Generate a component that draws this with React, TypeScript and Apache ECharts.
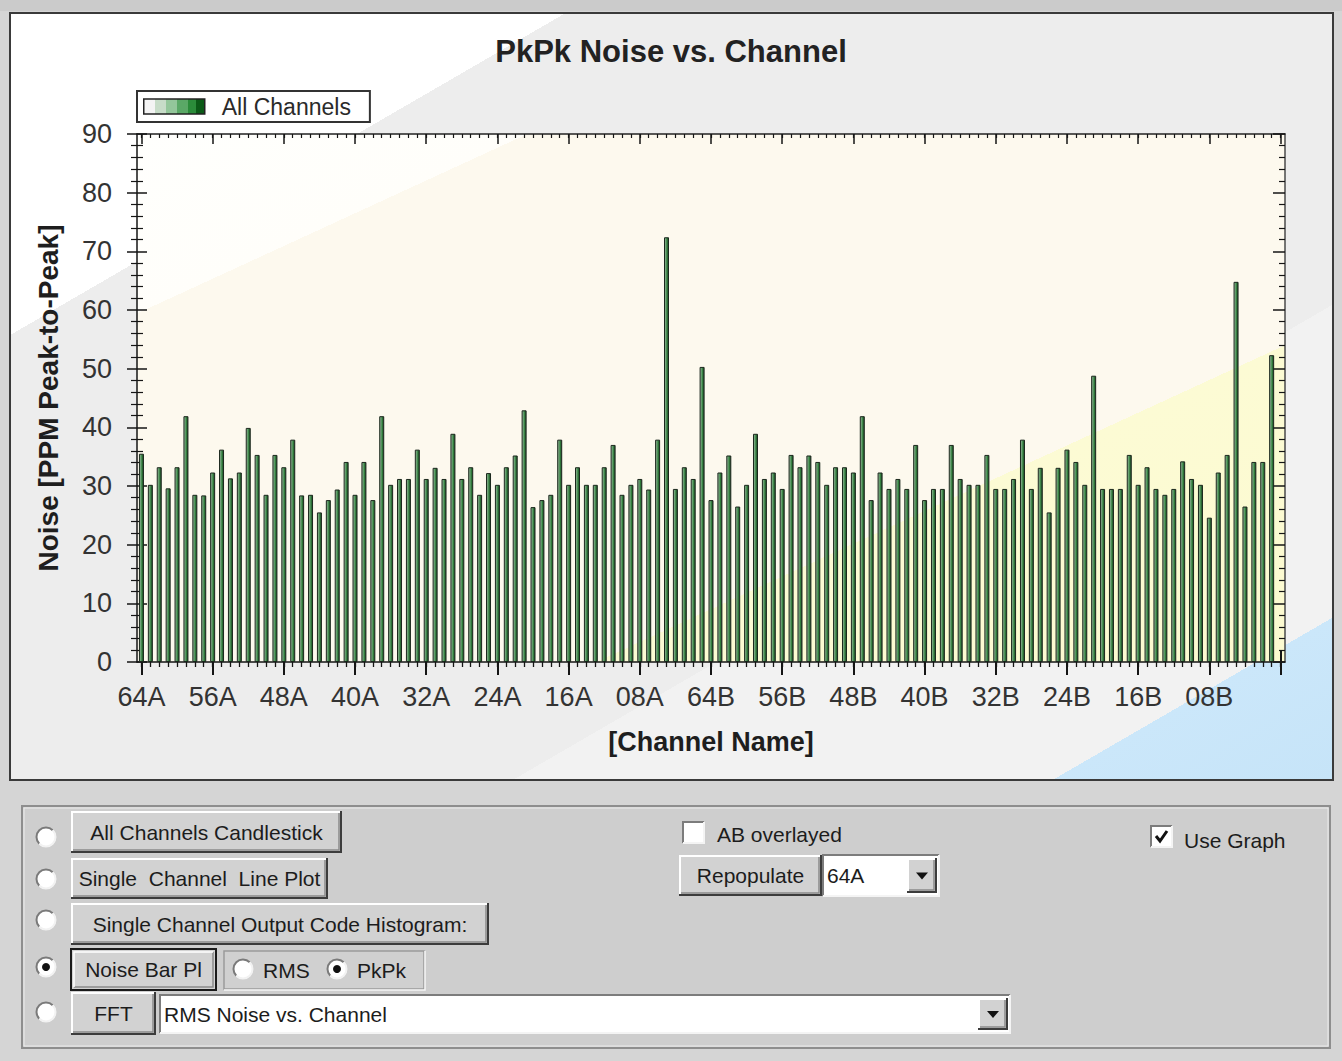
import React, { useEffect, useRef } from "react";
import * as echarts from "echarts";

// ---------------- DATA ----------------
const FONT = '"Liberation Sans", Arial, sans-serif';

const channelNumbers: string[] = [
  "64", "63", "62", "61", "60", "59", "58", "57", "56", "55", "54", "53", "52", "51", "50", "49",
  "48", "47", "46", "45", "44", "43", "42", "41", "40", "39", "38", "37", "36", "35", "34", "33",
  "32", "31", "30", "29", "28", "27", "26", "25", "24", "23", "22", "21", "20", "19", "18", "17",
  "16", "15", "14", "13", "12", "11", "10", "09", "08", "07", "06", "05", "04", "03", "02", "01",
];

// PkPk noise, side A (64A ... 01A)
const sideANoise: number[] = [
  35.5, 30.2, 33.2, 29.6, 33.2, 41.9, 28.5, 28.4, 32.3, 36.2, 31.3, 32.3, 39.9, 35.3, 28.5, 35.3,
  33.2, 37.9, 28.4, 28.5, 25.5, 27.6, 29.4, 34.1, 28.5, 34.1, 27.6, 41.9, 30.2, 31.2, 31.2, 36.2,
  31.2, 33.1, 31.2, 38.9, 31.2, 33.2, 28.5, 32.2, 30.2, 33.2, 35.2, 42.9, 26.4, 27.6, 28.5, 37.9,
  30.2, 33.2, 30.2, 30.2, 33.2, 37.0, 28.5, 30.2, 31.2, 29.4, 37.9, 72.4, 29.5, 33.2, 31.2, 50.3,
];

// PkPk noise, side B (64B ... 01B)
const sideBNoise: number[] = [
  27.6, 32.3, 35.2, 26.5, 30.2, 38.9, 31.2, 32.3, 29.5, 35.3, 33.2, 35.2, 34.1, 30.2, 33.2, 33.2,
  32.3, 41.9, 27.6, 32.3, 29.5, 31.2, 29.5, 37.0, 27.6, 29.5, 29.5, 37.0, 31.2, 30.2, 30.2, 35.3,
  29.5, 29.5, 31.2, 37.9, 29.5, 33.1, 25.5, 33.1, 36.2, 34.1, 30.2, 48.8, 29.5, 29.5, 29.5, 35.3,
  30.2, 33.2, 29.5, 28.5, 29.5, 34.2, 31.2, 30.2, 24.6, 32.3, 35.3, 64.8, 26.5, 34.1, 34.1, 52.3,
];

// one trailing empty slot, as in the original plot
const channelNames: string[] = [
  ...channelNumbers.map((n) => n + "A"),
  ...channelNumbers.map((n) => n + "B"),
  "",
];
const noiseValues: (number | null)[] = [...sideANoise, ...sideBNoise, null];

const yMin = 0;
const yMax = 90;
const yInterval = 10;
const labelEvery = 8;

const titleText = "PkPk Noise vs. Channel";
const seriesName = "All Channels";
const xName = "[Channel Name]";
const yName = "Noise [PPM Peak-to-Peak]";

// ---------------- UI helpers (drawn controls) ----------------
type El = any;

function txt(x: number, y: number, s: string, align: string = "left", size = 21): El {
  return {
    type: "text",
    x,
    y,
    z: 20,
    silent: true,
    style: {
      text: s,
      fill: "#1c1c1c",
      fontSize: size,
      fontFamily: FONT,
      align,
      verticalAlign: "middle",
      textAlign: align,
      textVerticalAlign: "middle",
    },
  };
}

function raised(x: number, y: number, w: number, h: number): El[] {
  return [
    { type: "rect", z: 15, silent: true, shape: { x, y, width: w, height: h }, style: { fill: "#d2d2d2" } },
    { type: "polyline", z: 16, silent: true, shape: { points: [[x + 1, y + h - 1], [x + 1, y + 1], [x + w - 1, y + 1]] }, style: { stroke: "#ffffff", lineWidth: 2, fill: null } },
    { type: "polyline", z: 16, silent: true, shape: { points: [[x, y + h - 1], [x + w - 1, y + h - 1], [x + w - 1, y]] }, style: { stroke: "#3c3c3c", lineWidth: 2, fill: null } },
    { type: "polyline", z: 16, silent: true, shape: { points: [[x + 2, y + h - 3], [x + w - 3, y + h - 3], [x + w - 3, y + 2]] }, style: { stroke: "#8a8a8a", lineWidth: 1.5, fill: null } },
  ];
}

function button(x: number, y: number, w: number, h: number, label: string, pressed = false): El[] {
  let els: El[];
  if (pressed) {
    els = [
      { type: "rect", z: 15, silent: true, shape: { x, y, width: w, height: h }, style: { fill: "#d2d2d2", stroke: "#1a1a1a", lineWidth: 2 } },
      { type: "polyline", z: 16, silent: true, shape: { points: [[x + 3, y + h - 3], [x + w - 3, y + h - 3], [x + w - 3, y + 3]] }, style: { stroke: "#8a8a8a", lineWidth: 1.5, fill: null } },
      { type: "polyline", z: 16, silent: true, shape: { points: [[x + 3, y + h - 3], [x + 3, y + 3], [x + w - 3, y + 3]] }, style: { stroke: "#ffffff", lineWidth: 1.5, fill: null } },
    ];
  } else {
    els = raised(x, y, w, h);
  }
  els.push(txt(x + w / 2, y + h / 2, label, "center"));
  return els;
}

function radio(cx: number, cy: number, checked: boolean): El[] {
  const els: El[] = [
    { type: "circle", z: 15, silent: true, shape: { cx, cy, r: 10 }, style: { fill: "#ffffff" } },
    { type: "arc", z: 16, silent: true, shape: { cx, cy, r: 9.5, startAngle: (3 * Math.PI) / 4, endAngle: (7 * Math.PI) / 4, clockwise: true }, style: { stroke: "#7a7a7a", lineWidth: 2, fill: null } },
    { type: "arc", z: 16, silent: true, shape: { cx, cy, r: 9.5, startAngle: -Math.PI / 4, endAngle: (3 * Math.PI) / 4, clockwise: true }, style: { stroke: "#f2f2f2", lineWidth: 2, fill: null } },
  ];
  if (checked) {
    els.push({ type: "circle", z: 17, silent: true, shape: { cx, cy, r: 4 }, style: { fill: "#111111" } });
  }
  return els;
}

function sunken(x: number, y: number, w: number, h: number): El[] {
  return [
    { type: "rect", z: 15, silent: true, shape: { x, y, width: w, height: h }, style: { fill: "#ffffff" } },
    { type: "polyline", z: 16, silent: true, shape: { points: [[x, y + h], [x, y], [x + w, y]] }, style: { stroke: "#7c7c7c", lineWidth: 2, fill: null } },
    { type: "polyline", z: 16, silent: true, shape: { points: [[x, y + h], [x + w, y + h], [x + w, y]] }, style: { stroke: "#f4f4f4", lineWidth: 2, fill: null } },
  ];
}

function checkbox(x: number, y: number, checked: boolean): El[] {
  const els = sunken(x, y, 21, 21);
  if (checked) {
    els.push({ type: "polyline", z: 17, silent: true, shape: { points: [[x + 5, y + 10], [x + 9, y + 15], [x + 16, y + 5]] }, style: { stroke: "#111111", lineWidth: 3, fill: null } });
  }
  return els;
}

function combo(x: number, y: number, w: number, h: number, label: string): El[] {
  const els = sunken(x, y, w, h);
  const bw = 30;
  els.push(...raised(x + w - bw - 2, y + 3, bw, h - 6));
  const ax = x + w - bw / 2 - 2;
  const ay = y + h / 2;
  els.push({ type: "polygon", z: 18, silent: true, shape: { points: [[ax - 6, ay - 3], [ax + 6, ay - 3], [ax, ay + 4]] }, style: { fill: "#111111" } });
  els.push(txt(x + 4, y + h / 2, label, "left"));
  return els;
}

function buildControls(): El[] {
  const els: El[] = [];
  // bottom panel
  els.push({ type: "rect", z: 5, silent: true, shape: { x: 22, y: 806, width: 1308, height: 242 }, style: { fill: "#cecece", stroke: "#8e8e8e", lineWidth: 2 } });
  els.push({ type: "rect", z: 5, silent: true, shape: { x: 24, y: 808, width: 1304, height: 238 }, style: { fill: null, stroke: "#ebebeb", lineWidth: 1 } });

  els.push(...radio(46, 837, false));
  els.push(...radio(46, 879, false));
  els.push(...radio(46, 920, false));
  els.push(...radio(46, 967, true));
  els.push(...radio(46, 1012, false));

  els.push(...button(71, 811, 271, 42, "All Channels Candlestick"));
  els.push(...button(71, 858, 257, 41, "Single  Channel  Line Plot"));
  els.push(...button(71, 903, 418, 42, "Single Channel Output Code Histogram:"));
  els.push(...button(71, 949, 145, 41, "Noise Bar Pl", true));
  els.push(...button(71, 992, 85, 43, "FFT"));

  // RMS / PkPk group
  els.push({ type: "rect", z: 14, silent: true, shape: { x: 224, y: 951, width: 200, height: 38 }, style: { fill: "#d0d0d0", stroke: "#9a9a9a", lineWidth: 1.5 } });
  els.push({ type: "polyline", z: 14, silent: true, shape: { points: [[224, 990], [425, 990], [425, 951]] }, style: { stroke: "#f6f6f6", lineWidth: 1.5, fill: null } });
  els.push(...radio(243, 969, false));
  els.push(txt(263, 970, "RMS"));
  els.push(...radio(337, 969, true));
  els.push(txt(357, 970, "PkPk"));

  els.push(...combo(160, 995, 850, 38, "RMS Noise vs. Channel"));

  els.push(...checkbox(683, 822, false));
  els.push(txt(717, 834, "AB overlayed"));
  els.push(...button(679, 855, 143, 41, "Repopulate"));
  els.push(...combo(823, 855, 116, 41, "64A"));

  els.push(...checkbox(1151, 826, true));
  els.push(txt(1184, 840, "Use Graph"));
  return els;
}

// ---------------- CHART ----------------
export default function App() {
  const ref = useRef<HTMLDivElement | null>(null);

  useEffect(() => {
    if (!ref.current) return;
    const chart = echarts.init(ref.current, null, { renderer: "svg" });

    const barGradient = {
      type: "linear", x: 0, y: 0, x2: 1, y2: 0,
      colorStops: [
        { offset: 0, color: "#a4b7a6" },
        { offset: 0.4, color: "#5a9a64" },
        { offset: 0.65, color: "#2f7b3a" },
        { offset: 1, color: "#223f28" },
      ],
    };
    const legendGradient = {
      type: "linear", x: 0, y: 0, x2: 1, y2: 0,
      colorStops: [
        { offset: 0, color: "#f4f4f4" },
        { offset: 0.18, color: "#f4f4f4" },
        { offset: 0.18, color: "#c7dcc8" },
        { offset: 0.36, color: "#c7dcc8" },
        { offset: 0.36, color: "#93c69a" },
        { offset: 0.54, color: "#93c69a" },
        { offset: 0.54, color: "#5aa866" },
        { offset: 0.72, color: "#5aa866" },
        { offset: 0.72, color: "#2b8c3a" },
        { offset: 0.86, color: "#2b8c3a" },
        { offset: 0.86, color: "#0b5a17" },
        { offset: 1, color: "#0b5a17" },
      ],
    };
    const plotGradient = {
      type: "linear", x: 0, y: 0, x2: 1, y2: 1,
      colorStops: [
        { offset: 0, color: "#fffffd" },
        { offset: 0.17, color: "#fffefa" },
        { offset: 0.17, color: "#fdf9ee" },
        { offset: 0.7, color: "#fdf9ee" },
        { offset: 0.7, color: "#fcfbd4" },
        { offset: 1, color: "#fcfad0" },
      ],
    };
    const panelGradient = {
      type: "linear", x: 0, y: 0, x2: 1, y2: 1,
      colorStops: [
        { offset: 0, color: "#ffffff" },
        { offset: 0.21, color: "#ffffff" },
        { offset: 0.21, color: "#ededed" },
        { offset: 0.69, color: "#ededed" },
        { offset: 0.69, color: "#f2f2f2" },
        { offset: 0.894, color: "#f2f2f2" },
        { offset: 0.894, color: "#cbe7fa" },
        { offset: 1, color: "#c6e4f8" },
      ],
    };

    const majorEvery = (i: number) => i % labelEvery === 0;
    const tickColor = "#151515";
    const catBase = {
      type: "category",
      data: channelNames,
      boundaryGap: true,
      axisLabel: { show: false },
      splitLine: { show: false },
    };
    const valBase = {
      type: "value",
      min: yMin,
      max: yMax,
      interval: yInterval,
      splitLine: { show: false },
      axisLabel: { show: false },
    };

    chart.setOption({
      animation: false,
      backgroundColor: "#d5d5d5",
      title: {
        text: titleText,
        left: "center",
        top: 31,
        textStyle: { fontSize: 31, fontWeight: "bold", fontFamily: FONT, color: "#222222" },
      },
      legend: {
        show: true,
        left: 137,
        top: 91,
        selectedMode: false,
        backgroundColor: "#ffffff",
        borderColor: "#333333",
        borderWidth: 2,
        borderRadius: 0,
        padding: [4, 19, 4, 6],
        itemWidth: 61,
        itemHeight: 15,
        icon: "rect",
        data: [{ name: seriesName, itemStyle: { color: legendGradient, borderColor: "#222222", borderWidth: 1.5 } }],
        textStyle: { fontSize: 23, fontFamily: FONT, color: "#2a2a2a", padding: [0, 0, 0, 12], lineHeight: 22 },
      },
      grid: {
        left: 137,
        top: 134,
        width: 1148,
        height: 528,
        show: true,
        backgroundColor: plotGradient,
        borderWidth: 0,
      },
      xAxis: [
        {
          ...catBase,
          position: "bottom",
          axisLine: { show: true, onZero: false, lineStyle: { color: tickColor, width: 1.5 } },
          axisTick: { show: true, interval: 0, alignWithLabel: true, length: 5, lineStyle: { color: tickColor, width: 1.3 } },
          axisLabel: { show: true, interval: majorEvery, margin: 21, fontSize: 27, fontFamily: FONT, color: "#333333" },
          name: xName,
          nameLocation: "middle",
          nameGap: 66,
          nameTextStyle: { fontSize: 27, fontWeight: "bold", fontFamily: FONT, color: "#1e1e1e" },
        },
        {
          ...catBase,
          position: "bottom",
          axisLine: { show: false, onZero: false },
          axisTick: { show: true, interval: majorEvery, alignWithLabel: true, length: 13, lineStyle: { color: tickColor, width: 2 } },
        },
        {
          ...catBase,
          position: "bottom",
          axisLine: { show: false, onZero: false },
          axisTick: { show: true, inside: true, interval: majorEvery, alignWithLabel: true, length: 11, lineStyle: { color: tickColor, width: 2 } },
        },
        {
          ...catBase,
          position: "top",
          axisLine: { show: true, onZero: false, lineStyle: { color: "#222222", width: 1.5 } },
          axisTick: { show: true, inside: true, interval: 0, alignWithLabel: true, length: 4, lineStyle: { color: tickColor, width: 1.2 } },
        },
        {
          ...catBase,
          position: "top",
          axisLine: { show: false, onZero: false },
          axisTick: { show: true, inside: true, interval: majorEvery, alignWithLabel: true, length: 10, lineStyle: { color: tickColor, width: 1.5 } },
        },
      ],
      yAxis: [
        {
          ...valBase,
          position: "left",
          axisLine: { show: true, onZero: false, lineStyle: { color: tickColor, width: 1.5 } },
          axisTick: { show: true, length: 10, lineStyle: { color: tickColor, width: 1.5 } },
          minorTick: { show: true, splitNumber: 5, length: 6, lineStyle: { color: tickColor, width: 1.2 } },
          axisLabel: { show: true, margin: 25, fontSize: 27, fontFamily: FONT, color: "#333333" },
          name: yName,
          nameLocation: "middle",
          nameGap: 75,
          nameRotate: 90,
          nameTextStyle: { fontSize: 28, fontWeight: "bold", fontFamily: FONT, color: "#1e1e1e" },
        },
        {
          ...valBase,
          position: "left",
          axisLine: { show: false, onZero: false },
          axisTick: { show: true, inside: true, length: 10, lineStyle: { color: tickColor, width: 1.5 } },
          minorTick: { show: true, splitNumber: 5, length: 6, lineStyle: { color: tickColor, width: 1.2 } },
        },
        {
          ...valBase,
          position: "right",
          axisLine: { show: true, onZero: false, lineStyle: { color: "#4a4a4a", width: 1.5 } },
          axisTick: { show: true, inside: true, length: 12, lineStyle: { color: tickColor, width: 1.5 } },
          minorTick: { show: true, splitNumber: 5, length: 6, lineStyle: { color: tickColor, width: 1.2 } },
        },
      ],
      series: [
        {
          type: "bar",
          name: seriesName,
          xAxisIndex: 0,
          yAxisIndex: 0,
          data: noiseValues,
          barWidth: 5,
          itemStyle: { color: barGradient, borderColor: "#1a271c", borderWidth: 1 },
        },
      ],
      graphic: [
        { type: "rect", z: -20, silent: true, shape: { x: 0, y: 0, width: 1342, height: 11 }, style: { fill: "#cbcbcb" } },
        { type: "rect", z: -10, silent: true, shape: { x: 10, y: 13, width: 1323, height: 767 }, style: { fill: panelGradient, stroke: "#3a3a3a", lineWidth: 2 } },
        ...buildControls(),
      ],
    });

    return () => chart.dispose();
  }, []);

  return (
    <div
      ref={ref}
      style={{ position: "fixed", left: 0, top: 0, width: 1342, height: 1061 }}
    />
  );
}
